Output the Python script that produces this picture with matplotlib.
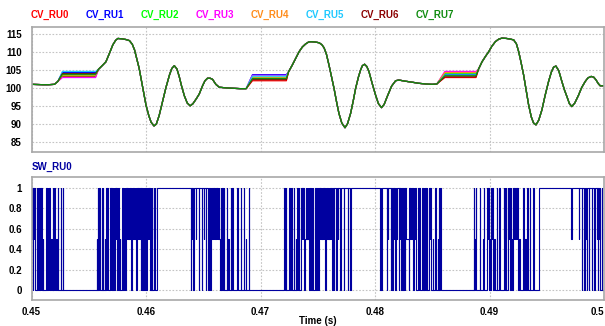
import numpy as np
import matplotlib
matplotlib.use('Agg')
import matplotlib.pyplot as plt

plt.rcParams['font.family'] = ['Liberation Sans', 'DejaVu Sans']

# ---- top panel: capacitor voltages (time in ms, value in V) ----
NAMES = ['CV_RU0', 'CV_RU1', 'CV_RU2', 'CV_RU3', 'CV_RU4', 'CV_RU5', 'CV_RU6', 'CV_RU7']
COLORS = ['#ff0000', '#0000ff', '#00ff00', '#ff00ff', '#ff8c1a', '#1ec8ff', '#8b0000', '#108c10']

SEG_A_T = [450.0, 450.5, 451.0, 451.5, 452.0, 452.3]
SEG_A_V = [101.0, 100.95, 100.9, 100.9, 101.0, 101.8]

SEG_B_T = [455.85, 456.2, 456.5, 456.8, 457.1, 457.35, 457.55, 457.9, 458.25, 458.55, 458.8, 459.0,
           459.2, 459.4, 459.7, 460.0, 460.25, 460.45, 460.7, 460.9, 461.15, 461.45, 461.75, 462.05,
           462.25, 462.47, 462.7, 462.9, 463.1, 463.35, 463.6, 463.86, 464.1, 464.4, 464.65, 464.94,
           465.15, 465.37, 465.6, 465.81, 466.1, 466.39, 467.0, 467.55, 468.2, 468.75]
SEG_B_V = [105.2, 106.3, 107.3, 109.6, 112.0, 113.3, 113.8, 113.7, 113.5, 113.2, 112.2, 110.6,
           108.0, 105.5, 100.3, 95.2, 92.2, 90.4, 89.4, 89.9, 92.3, 96.2, 100.2, 103.6,
           105.4, 106.2, 105.3, 103.2, 100.6, 97.8, 95.8, 95.0, 95.6, 97.0, 98.3, 100.6,
           102.0, 102.7, 102.7, 102.4, 101.0, 100.2, 100.0, 99.9, 99.8, 99.8]

SEG_C_T = [472.45, 472.78, 473.1, 473.37, 473.65, 473.95, 474.2, 474.39, 474.8, 475.11, 475.35, 475.55,
           475.75, 475.98, 476.2, 476.42, 476.65, 476.85, 477.1, 477.38, 477.6, 477.87, 478.1, 478.31,
           478.55, 478.74, 478.9, 479.09, 479.28, 479.47, 479.75, 480.05, 480.3, 480.57, 480.8, 481.07,
           481.45, 481.8, 482.08, 482.6, 483.24, 483.8, 484.41, 485.0, 485.4]
SEG_C_V = [104.5, 106.4, 108.4, 110.1, 111.4, 112.3, 112.8, 112.9, 112.8, 112.6, 112.1, 111.2,
           109.5, 106.4, 103.2, 99.9, 96.0, 92.9, 90.2, 88.9, 90.0, 92.9, 96.4, 99.9,
           103.0, 105.0, 106.2, 106.6, 106.0, 104.6, 101.3, 98.0, 95.6, 94.5, 95.4, 97.6,
           100.5, 102.0, 102.2, 101.9, 101.6, 101.3, 101.1, 101.0, 101.1]

SEG_D_T = [489.05, 489.35, 489.65, 489.93, 490.2, 490.51, 490.8, 491.09, 491.5, 491.85, 492.11, 492.35,
           492.55, 492.75, 492.98, 493.2, 493.42, 493.65, 493.85, 494.06, 494.3, 494.58, 494.85, 495.16,
           495.4, 495.6, 495.8, 496.05, 496.32, 496.55, 496.76, 496.98, 497.19, 497.45, 497.78, 498.05,
           498.36, 498.6, 498.88, 499.1, 499.29, 499.5, 499.67, 500.0]
SEG_D_V = [105.3, 107.3, 108.8, 110.1, 111.6, 112.9, 113.6, 113.9, 113.8, 113.6, 113.4, 112.3,
           110.1, 107.2, 103.6, 99.4, 95.2, 91.9, 90.2, 89.7, 91.0, 93.9, 97.8, 101.8,
           104.4, 105.8, 106.1, 104.8, 101.8, 99.4, 97.6, 95.6, 94.8, 95.8, 98.0, 100.1,
           101.8, 102.8, 103.2, 103.0, 102.3, 101.2, 100.6, 100.6]

# plateau start/end (ms) and level of each series on the three plateaus
PLATEAU_T = [(452.7, 455.6), (469.3, 472.26), (486.1, 488.82)]
PLATEAU_V = {
    'CV_RU0': [103.2, 102.0, 102.9],
    'CV_RU1': [104.3, 103.7, 103.8],
    'CV_RU2': [103.4, 103.0, 104.1],
    'CV_RU3': [102.9, 103.5, 104.6],
    'CV_RU4': [103.6, 102.8, 104.3],
    'CV_RU5': [104.6, 103.3, 103.6],
    'CV_RU6': [104.0, 102.3, 103.1],
    'CV_RU7': [103.8, 102.6, 103.4],
}

# ---- bottom panel: switching signal SW_RU0 (ms, level) ----
SW_EVENTS = [
    (450.00, 1), (450.05, 0.5), (450.08, 1), (450.12, 0), (450.16, 1), (450.20, 0.5), (450.24, 1), (450.28, 0),
    (450.44, 1), (450.49, 0), (450.60, 1), (450.64, 0.5), (450.68, 0), (450.76, 1), (450.80, 0), (450.86, 1),
    (450.90, 0), (451.00, 0.5), (451.04, 0), (451.31, 1), (451.36, 0), (451.44, 1), (451.48, 0.5), (451.52, 0),
    (451.56, 1), (451.60, 0), (451.72, 0.5), (451.76, 0), (451.86, 1), (451.92, 0), (452.00, 1), (452.04, 0),
    (452.16, 0.5), (452.20, 0), (452.28, 1), (452.32, 0), (452.58, 1), (452.62, 0), (452.72, 1), (452.78, 0),
    # second burst
    (455.72, 0.5), (455.76, 0), (455.80, 1), (455.84, 0), (455.90, 1), (455.94, 0), (456.12, 1), (456.16, 0),
    (456.22, 1), (456.26, 0), (456.40, 0.5), (456.44, 0), (456.50, 1), (456.56, 0), (456.62, 1), (456.66, 0),
    (456.86, 1), (456.90, 0), (456.98, 1), (457.02, 0), (457.10, 1), (457.14, 0.5), (457.20, 1), (457.24, 0),
    (457.30, 1), (457.34, 0.5), (457.40, 1), (457.46, 0), (457.52, 0.5), (457.58, 1), (457.62, 0), (457.70, 0.5),
    (457.74, 0), (457.94, 1), (457.98, 0), (458.06, 1), (458.10, 0.5), (458.14, 1), (458.20, 0), (458.26, 1),
    (458.30, 0.5), (458.36, 1), (458.42, 0.5), (458.48, 1), (458.54, 0.5), (458.60, 1), (458.66, 0.5), (458.70, 0),
    (458.76, 1), (458.82, 0.5), (458.88, 1), (458.94, 0.5), (459.00, 1), (459.06, 0.5), (459.12, 1), (459.16, 0),
    (459.22, 1), (459.28, 0.5), (459.34, 1), (459.40, 0.5), (459.46, 1), (459.52, 0), (459.60, 1), (459.64, 0),
    (459.72, 1), (459.76, 0.5), (459.82, 1), (459.86, 0), (459.94, 1), (459.98, 0), (460.06, 1), (460.10, 0.5),
    (460.16, 1), (460.22, 0.5), (460.28, 1), (460.32, 0), (460.40, 1), (460.44, 0), (460.52, 1), (460.56, 0),
    (460.66, 1), (460.70, 0.5), (460.76, 1), (460.82, 0), (460.92, 1),
    # third burst
    (463.92, 0), (463.96, 1), (464.02, 0.5), (464.06, 1), (464.14, 0), (464.18, 1), (464.34, 0.5), (464.38, 1),
    (464.63, 0), (464.67, 1), (464.86, 0), (464.90, 1), (465.06, 0.5), (465.10, 1), (465.21, 0), (465.25, 1),
    (465.41, 0.5), (465.45, 0), (465.49, 1), (465.60, 0), (465.64, 1), (465.80, 0.5), (465.86, 1), (465.92, 0.5),
    (465.98, 1), (466.04, 0.5), (466.10, 1), (466.16, 0.5), (466.22, 1), (466.28, 0.5), (466.34, 1), (466.38, 0.5),
    (466.42, 0), (466.52, 1), (466.56, 0), (466.66, 1), (466.70, 0), (466.81, 1), (466.85, 0), (467.04, 1),
    (467.08, 0), (467.20, 0.5), (467.24, 0), (467.39, 1), (467.43, 0), (467.53, 1), (467.57, 0), (467.97, 1),
    (468.01, 0.5), (468.05, 0), (468.26, 1), (468.30, 0), (468.55, 1), (468.59, 0), (468.72, 0.5), (468.76, 0),
    (468.99, 1), (469.03, 0),
    # fourth burst
    (472.06, 1), (472.10, 0), (472.20, 1), (472.24, 0), (472.47, 0.5), (472.51, 1), (472.55, 0), (472.67, 1),
    (472.71, 0), (472.91, 1), (472.95, 0), (473.10, 0.5), (473.14, 0), (473.20, 1), (473.24, 0.5), (473.28, 0),
    (473.35, 1), (473.39, 0), (473.50, 1), (473.54, 0.5), (473.58, 1), (473.62, 0.5), (473.66, 1), (473.70, 0.5),
    (473.74, 1), (473.78, 0), (473.90, 0.5), (473.94, 1), (473.98, 0.5), (474.02, 1), (474.06, 0.5), (474.12, 1),
    (474.16, 0.5), (474.22, 1), (474.26, 0), (474.36, 1), (474.40, 0), (474.50, 1), (474.54, 0.5), (474.58, 1),
    (474.62, 0), (474.72, 0.5), (474.78, 1), (474.84, 0), (474.94, 1), (474.98, 0), (475.10, 1), (475.16, 0.5),
    (475.22, 1), (475.28, 0.5), (475.34, 1), (475.40, 0.5), (475.46, 1), (475.52, 0.5), (475.58, 1), (475.64, 0),
    (475.70, 1), (475.76, 0.5), (475.82, 1), (475.88, 0.5), (475.94, 1), (476.00, 0.5), (476.06, 1), (476.12, 0.5),
    (476.18, 1), (476.24, 0), (476.30, 1), (476.40, 0), (476.44, 1), (476.63, 0), (476.67, 1), (476.75, 0.5),
    (476.79, 1), (476.98, 0), (477.02, 1), (477.27, 0), (477.31, 1), (477.62, 0), (477.66, 1), (477.85, 0),
    (477.89, 1),
    # fifth burst
    (480.43, 0.5), (480.47, 0), (480.51, 1), (480.56, 0), (480.60, 1), (481.05, 0), (481.09, 1), (481.13, 0.5),
    (481.17, 1), (481.40, 0), (481.44, 1), (481.50, 0), (481.56, 1), (481.62, 0.5), (481.66, 1), (481.74, 0),
    (481.80, 1), (481.86, 0.5), (481.90, 1), (482.06, 0), (482.10, 1), (482.16, 0.5), (482.22, 1), (482.28, 0),
    (482.40, 1), (482.46, 0), (482.52, 1), (482.58, 0), (482.64, 1), (482.70, 0.5), (482.94, 0), (482.98, 1),
    (483.04, 0.5), (483.10, 1), (483.16, 0.5), (483.22, 1), (483.28, 0), (483.40, 1), (483.44, 0.5), (483.50, 1),
    (483.56, 0), (483.76, 1), (483.80, 0), (483.86, 1), (483.90, 0), (484.14, 1), (484.18, 0), (484.24, 1),
    (484.28, 0), (484.40, 1), (484.44, 0), (484.54, 1), (484.58, 0), (484.74, 1), (484.78, 0.5), (484.82, 1),
    (484.86, 0), (485.05, 0.5), (485.09, 0), (485.26, 1), (485.30, 0), (485.50, 0.5), (485.54, 0), (485.56, 1),
    (485.60, 0), (485.70, 1), (485.74, 0),
    # sixth burst
    (488.62, 1), (488.66, 0), (488.74, 0.5), (488.78, 1), (488.82, 0), (489.13, 1), (489.17, 0), (489.46, 0.5),
    (489.50, 1), (489.54, 0), (489.82, 1), (489.86, 0.5), (489.90, 1), (489.94, 0), (490.00, 0.5), (490.06, 0),
    (490.12, 1), (490.16, 0.5), (490.26, 1), (490.30, 0.5), (490.34, 0), (490.40, 0.5), (490.46, 0), (490.63, 1),
    (490.67, 0), (490.87, 1), (490.91, 0), (491.24, 1), (491.28, 0.5), (491.32, 1), (491.36, 0), (491.44, 1),
    (491.48, 0), (491.60, 1), (491.64, 0.5), (491.70, 1), (491.76, 0), (491.84, 1), (491.88, 0.5), (491.94, 0),
    (492.06, 1), (492.12, 0.5), (492.18, 1), (492.24, 0.5), (492.30, 1), (492.36, 0.5), (492.42, 1), (492.48, 0),
    (492.60, 0.5), (492.66, 0), (492.96, 1), (493.00, 0), (493.12, 0.5), (493.18, 0), (493.31, 1), (493.35, 0),
    (493.54, 1), (493.58, 0), (493.83, 1), (493.87, 0), (494.33, 1),
    # last burst
    (497.14, 0.5), (497.18, 1), (497.82, 0.5), (497.86, 1), (498.05, 0), (498.09, 1), (498.28, 0), (498.32, 1),
    (498.46, 0.5), (498.50, 0), (498.54, 1), (498.69, 0), (498.73, 1), (498.92, 0), (498.96, 1), (499.15, 0),
    (499.19, 1), (499.35, 0.5), (499.39, 1), (499.45, 0), (499.50, 1), (499.56, 0.5), (499.62, 1), (499.68, 0),
    (499.79, 1), (499.83, 0), (500.0, 0),
]

X_TICKS = [0.45, 0.46, 0.47, 0.48, 0.49, 0.5]
X_TICK_LABELS = ['0.45', '0.46', '0.47', '0.48', '0.49', '0.5']
CV_YTICKS = [85, 90, 95, 100, 105, 110, 115]
SW_YTICKS = [0, 0.2, 0.4, 0.6, 0.8, 1]
SW_YTICK_LABELS = ['0', '0.2', '0.4', '0.6', '0.8', '1']

W, H = 605, 326
fig = plt.figure(figsize=(W / 100, H / 100), dpi=100)
L, R = 31.5, 604
ax1 = fig.add_axes([L / W, 1 - 151.7 / H, (R - L) / W, (151.7 - 27) / H])
ax2 = fig.add_axes([L / W, 1 - 300 / H, (R - L) / W, (300 - 176.7) / H])

for name, col in zip(NAMES, COLORS):
    p = PLATEAU_V[name]
    t = (SEG_A_T + [PLATEAU_T[0][0], PLATEAU_T[0][1]] + SEG_B_T + [PLATEAU_T[1][0], PLATEAU_T[1][1]]
         + SEG_C_T + [PLATEAU_T[2][0], PLATEAU_T[2][1]] + SEG_D_T)
    v = (SEG_A_V + [p[0], p[0]] + SEG_B_V + [p[1], p[1]] + SEG_C_V + [p[2], p[2]] + SEG_D_V)
    ax1.plot(np.array(t) / 1000.0, v, color=col, lw=0.9)

sw_t = np.array([e[0] for e in SW_EVENTS]) / 1000.0
sw_v = [e[1] for e in SW_EVENTS]
ax2.plot(sw_t, sw_v, drawstyle='steps-post', color='#0000a0', lw=0.8)

for ax in (ax1, ax2):
    ax.set_xlim(0.45, 0.5)
    ax.set_xticks(X_TICKS)
    ax.grid(True, color='#c4c4c4', linestyle=(0, (1.5, 1.5)), linewidth=0.8)
    ax.set_axisbelow(True)
    for s in ax.spines.values():
        s.set_color('#a8a8a8')
        s.set_linewidth(1.2)
    ax.tick_params(length=0, labelsize=7, pad=7)

ax1.set_ylim(82.2, 117.0)
ax1.set_yticks(CV_YTICKS)
ax1.set_yticklabels([str(v) for v in CV_YTICKS], fontweight='bold')
ax1.set_xticklabels([])

ax2.set_ylim(-0.098, 1.108)
ax2.set_yticks(SW_YTICKS)
ax2.set_yticklabels(SW_YTICK_LABELS, fontweight='bold')
ax2.set_xticklabels(X_TICK_LABELS, fontweight='bold')
ax2.tick_params(axis='x', pad=5)
# the last label sits flush against the right edge, as in the reference
ax2.get_xticklabels()[-1].set_horizontalalignment('right')

# legend labels across the top
for i, (name, col) in enumerate(zip(NAMES, COLORS)):
    fig.text((31 + 55 * i) / W, 1 - 15 / H, name, color=col, fontsize=7, fontweight='bold',
             ha='left', va='center')

fig.text(L / W, 1 - 166.7 / H, 'SW_RU0', color='#0000a0', fontsize=7, fontweight='bold',
         ha='left', va='center')
fig.text(318 / W, 1 - 321.5 / H, 'Time (s)', fontsize=7, fontweight='bold', ha='center', va='center')

fig.savefig('out.png', dpi=100)
